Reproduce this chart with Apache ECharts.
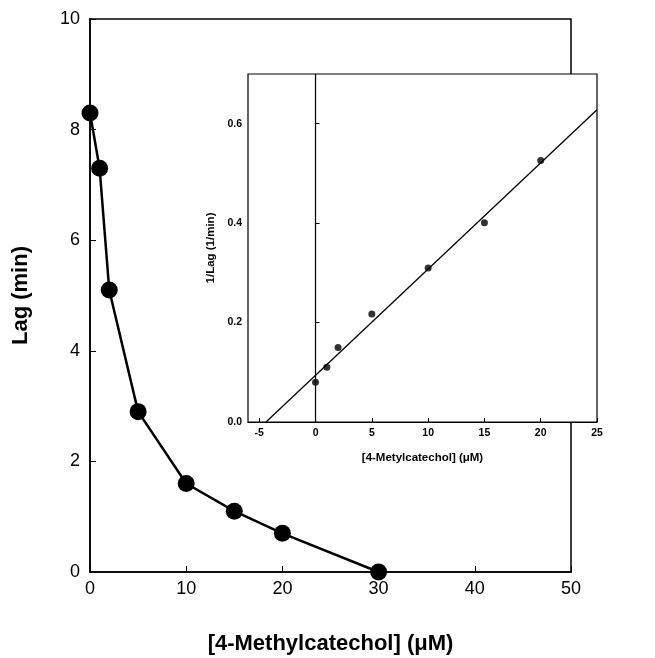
<!DOCTYPE html>
<html>
<head>
<meta charset="utf-8">
<script src="https://cdn.jsdelivr.net/npm/echarts@6/dist/echarts.min.js"></script>
<style>
  html, body { margin: 0; padding: 0; background: #fff; }
  #chart { width: 655px; height: 658px; }
</style>
</head>
<body>
<div id="chart"></div>
<script>
// main plot: lag vs concentration
var conc = [0, 1, 2, 5, 10, 15, 20, 30];
var lag = [8.3, 7.3, 5.1, 2.9, 1.6, 1.1, 0.7, 0];

// inset: 1/lag vs concentration
var insetConc = [0, 1, 2, 5, 10, 15, 20];
var invLag = [0.080, 0.110, 0.150, 0.217, 0.310, 0.401, 0.526];

// fitted line endpoints
var fitX = [-4.4, 25];
var fitY = [0, 0.628];

// inset tick positions
var insetXTicks = [-5, 0, 5, 10, 15, 20, 25];
var insetYTicks = [0, 0.2, 0.4, 0.6];

var chartDom = document.getElementById('chart');
var myChart = echarts.init(chartDom);
var font = 'Arial, "Liberation Sans", sans-serif';

function pairs(xs, ys) {
    var out = [];
    for (var i = 0; i < xs.length; i++) {
        out.push([xs[i], ys[i]]);
    }
    return out;
}

var option = {
    backgroundColor: '#fff',
    animation: false,
    grid: [
        { left: 90, right: 84, top: 19, bottom: 86, outerBoundsMode: 'none',
          show: true, borderColor: '#000', borderWidth: 1.5 },
        { left: 248, right: 58, top: 74, bottom: 236, outerBoundsMode: 'none',
          show: true, borderColor: '#000', borderWidth: 1.2, backgroundColor: '#fff' }
    ],
    xAxis: [
        {
            gridIndex: 0, type: 'value', min: 0, max: 50, interval: 10,
            name: '[4-Methylcatechol] (\u03bcM)', nameLocation: 'middle', nameGap: 61,
            nameTextStyle: { fontFamily: font, fontSize: 22, fontWeight: 'bold', color: '#000' },
            axisLine: { lineStyle: { color: '#000', width: 1.5 } },
            axisTick: { inside: true, length: 6, lineStyle: { color: '#000' } },
            axisLabel: { fontFamily: font, fontSize: 18, color: '#000', margin: 8 },
            splitLine: { show: false }
        },
        {
            gridIndex: 1, type: 'value', min: -6, max: 25,
            name: '[4-Metylcatechol] (\u03bcM)', nameLocation: 'middle', nameGap: 30,
            nameTextStyle: { fontFamily: font, fontSize: 11.5, fontWeight: 'bold', color: '#000' },
            axisLine: { lineStyle: { color: '#000', width: 1.2 } },
            axisTick: { inside: true, length: 4, lineStyle: { color: '#000' }, customValues: insetXTicks },
            axisLabel: {
                fontFamily: font, fontSize: 10.5, fontWeight: 'bold', color: '#000', margin: 6,
                customValues: insetXTicks
            },
            splitLine: { show: false }
        }
    ],
    yAxis: [
        {
            gridIndex: 0, type: 'value', min: 0, max: 10, interval: 2,
            name: 'Lag (min)', nameLocation: 'middle', nameGap: 58,
            nameTextStyle: { fontFamily: font, fontSize: 22, fontWeight: 'bold', color: '#000' },
            axisLine: { lineStyle: { color: '#000', width: 1.5 } },
            axisTick: { inside: true, length: 6, lineStyle: { color: '#000' } },
            axisLabel: { fontFamily: font, fontSize: 18, color: '#000', margin: 10 },
            splitLine: { show: false }
        },
        {
            gridIndex: 1, type: 'value', min: 0, max: 0.7,
            name: '1/Lag (1/min)', nameLocation: 'middle', nameGap: 28,
            nameTextStyle: { fontFamily: font, fontSize: 11.5, fontWeight: 'bold', color: '#000' },
            axisLine: { lineStyle: { color: '#000', width: 1.2 } },
            axisTick: { inside: true, length: 4, lineStyle: { color: '#000' }, customValues: insetYTicks },
            axisLabel: {
                fontFamily: font, fontSize: 10.5, fontWeight: 'bold', color: '#000', margin: 6,
                customValues: insetYTicks,
                formatter: function (v) { return v.toFixed(1); }
            },
            splitLine: { show: false }
        }
    ],
    series: [
        {
            name: 'Lag', type: 'line', xAxisIndex: 0, yAxisIndex: 0,
            data: pairs(conc, lag),
            symbol: 'circle', symbolSize: 17,
            lineStyle: { color: '#000', width: 2.5 },
            itemStyle: { color: '#000' },
            z: 3
        },
        {
            name: 'zero', type: 'line', xAxisIndex: 1, yAxisIndex: 1,
            data: [[0, 0], [0, 0.7]],
            symbol: 'none',
            lineStyle: { color: '#000', width: 1 },
            z: 4
        },
        {
            name: 'fit', type: 'line', xAxisIndex: 1, yAxisIndex: 1,
            data: pairs(fitX, fitY),
            symbol: 'none',
            lineStyle: { color: '#000', width: 1.3 },
            z: 4
        },
        {
            name: '1/Lag', type: 'scatter', xAxisIndex: 1, yAxisIndex: 1,
            data: pairs(insetConc, invLag),
            symbol: 'circle', symbolSize: 7,
            itemStyle: { color: '#000' },
            z: 5
        }
    ]
};

option && myChart.setOption(option);
</script>
</body>
</html>
